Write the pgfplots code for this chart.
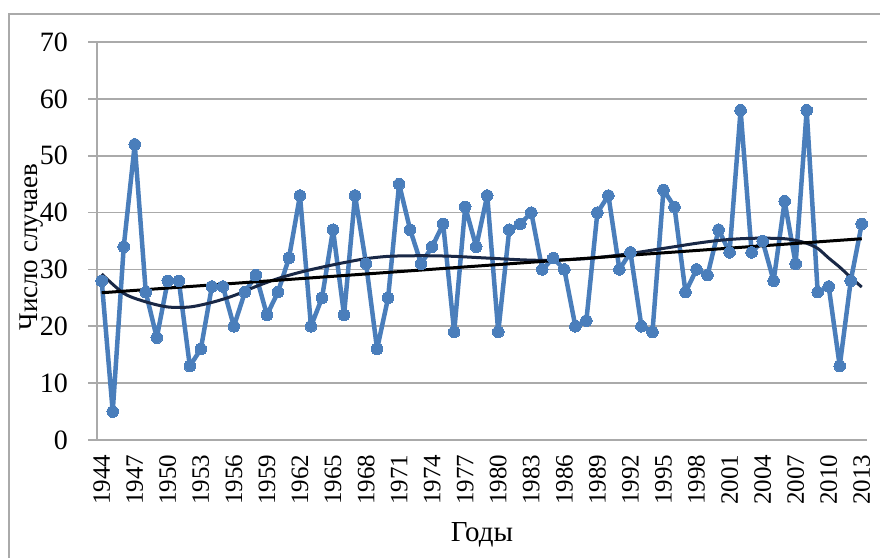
\documentclass[border=0pt]{standalone}
\usepackage{pgfplots}
\pgfplotsset{compat=1.18}
\usepackage{fontspec}
\setmainfont{Liberation Serif}
\definecolor{serblue}{RGB}{74,126,187}
\definecolor{polyc}{RGB}{25,40,70}
\definecolor{gridc}{RGB}{170,170,170}
\begin{document}
\begin{tikzpicture}[x=1pt,y=1pt]
\useasboundingbox (0,0) rectangle (880,558);
\draw[gridc, line width=2pt] (9,0) -- (9,544) -- (880,544);
\begin{axis}[
  at={(97.3pt,118pt)}, anchor=south west,
  scale only axis, width=769.4pt, height=398pt,
  xmin=1943.6, xmax=2013.45, ymin=0, ymax=70,
  ytick={0,10,...,70},
  xtick={1944,1947,...,2013},
  axis x line*=bottom, axis y line*=left,
  axis line style={gridc, line width=1.6pt},
  ymajorgrids, grid style={gridc, line width=1.6pt},
  tick style={gridc, line width=1.6pt},
  ytick align=outside, major tick length=9pt,
  xtick style={draw=none},
  /pgf/number format/assume math mode=true,
  /pgf/number format/1000 sep={},
  yticklabel style={font=\rmfamily\fontsize{28}{28}\selectfont, black},
  yticklabel shift=17pt,
  xticklabel style={font=\rmfamily\fontsize{25}{25}\selectfont, black, rotate=90, anchor=east},
  xticklabel shift=11pt,
  ylabel={Число случаев},
  ylabel style={font=\rmfamily\fontsize{27}{27}\selectfont, at={([xshift=-66pt,yshift=-6pt]rel axis cs:0,0.5)}, anchor=center},
  xlabel={Годы},
  xlabel style={font=\rmfamily\fontsize{29}{29}\selectfont, at={([yshift=-101pt]rel axis cs:0.5,0)}, anchor=base},
  clip=false,
]
\addplot[serblue, line width=4.5pt, line join=round, mark=*, mark size=5.8pt, mark options={fill=serblue, draw=serblue, line width=0pt}] coordinates {
(1944,28) (1945,5) (1946,34) (1947,52) (1948,26) (1949,18) (1950,28) (1951,28)
(1952,13) (1953,16) (1954,27) (1955,27) (1956,20) (1957,26) (1958,29) (1959,22)
(1960,26) (1961,32) (1962,43) (1963,20) (1964,25) (1965,37) (1966,22) (1967,43)
(1968,31) (1969,16) (1970,25) (1971,45) (1972,37) (1973,31) (1974,34) (1975,38)
(1976,19) (1977,41) (1978,34) (1979,43) (1980,19) (1981,37) (1982,38) (1983,40)
(1984,30) (1985,32) (1986,30) (1987,20) (1988,21) (1989,40) (1990,43) (1991,30)
(1992,33) (1993,20) (1994,19) (1995,44) (1996,41) (1997,26) (1998,30) (1999,29)
(2000,37) (2001,33) (2002,58) (2003,33) (2004,35) (2005,28) (2006,42) (2007,31)
(2008,58) (2009,26) (2010,27) (2011,13) (2012,28) (2013,38)
};
\addplot[polyc, line width=3pt, smooth] coordinates {
(1944,29.2) (1946,25.8) (1948,24.3) (1950,23.4) (1952,23.4) (1954,24.2)
(1956,25.4) (1958,27.0) (1960,28.4) (1962,29.5) (1964,30.4) (1966,31.2)
(1968,31.9) (1970,32.3) (1972,32.4) (1974,32.4) (1976,32.3) (1978,32.1)
(1980,31.9) (1982,31.7) (1984,31.6) (1986,31.7) (1988,31.9) (1990,32.3)
(1992,32.8) (1994,33.4) (1996,34.0) (1998,34.6) (2000,35.1) (2002,35.4)
(2004,35.5) (2006,35.4) (2007,35.1) (2008,34.6) (2009,33.7) (2010,32.0)
(2011,30.4) (2012,28.6) (2013,26.9)
};
\addplot[black, line width=3pt] coordinates {(1944,25.9) (2013,35.4)};
\end{axis}
\end{tikzpicture}
\end{document}
